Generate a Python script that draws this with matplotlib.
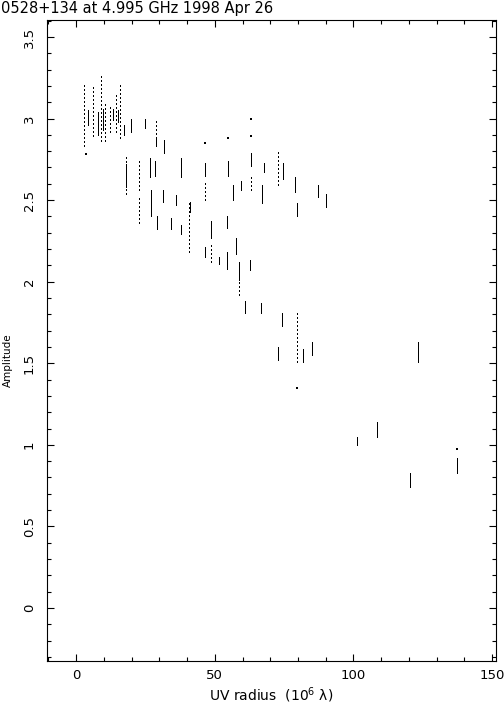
import matplotlib
matplotlib.use("Agg")
import matplotlib.pyplot as plt
from matplotlib.ticker import MultipleLocator

# Visibility amplitude streaks: uv radius (10^6 lambda), amp low, amp high
# densely sampled scans
dense_x = [4.3, 7.9, 9.7, 13.3, 15.1, 17.3, 19.8, 24.9, 28.8, 31.7, 18.0, 26.7,
           28.5, 27.0, 31.4, 36.1, 37.9, 29.2, 34.3, 37.9, 46.5, 54.8, 56.6, 59.5,
           63.1, 67.1, 67.8, 74.6, 79.0, 79.7, 87.2, 90.1, 41.1, 46.5, 48.7, 51.6,
           54.4, 54.4, 57.7, 58.8, 62.7, 60.9, 66.7, 74.3, 81.8, 85.1, 72.8, 123.3,
           101.3, 108.5, 120.4, 137.4]
dense_lo = [2.96, 2.90, 2.93, 2.99, 2.98, 2.90, 2.92, 2.94, 2.84, 2.79, 2.58, 2.64,
            2.65, 2.40, 2.49, 2.47, 2.64, 2.32, 2.32, 2.29, 2.65, 2.65, 2.50, 2.56,
            2.71, 2.48, 2.67, 2.63, 2.55, 2.40, 2.52, 2.46, 2.43, 2.15, 2.27, 2.11,
            2.08, 2.33, 2.17, 2.01, 2.07, 1.81, 1.81, 1.73, 1.51, 1.55, 1.52, 1.51,
            1.00, 1.05, 0.74, 0.83]
dense_hi = [3.05, 3.04, 3.06, 3.06, 3.05, 2.96, 3.00, 3.00, 2.88, 2.87, 2.72, 2.76,
            2.74, 2.56, 2.56, 2.53, 2.76, 2.40, 2.39, 2.35, 2.73, 2.74, 2.59, 2.62,
            2.79, 2.59, 2.73, 2.73, 2.64, 2.48, 2.59, 2.54, 2.49, 2.21, 2.37, 2.15,
            2.18, 2.40, 2.27, 2.12, 2.13, 1.88, 1.87, 1.81, 1.59, 1.63, 1.60, 1.63,
            1.05, 1.14, 0.83, 0.92]

# sparsely sampled scans (scattered points)
sparse_x = [2.9, 6.1, 9.0, 10.5, 12.3, 14.4, 15.9, 28.8, 18.0, 22.7, 22.7, 40.7,
            46.5, 63.1, 72.8, 48.7, 58.8, 79.7]
sparse_lo = [2.83, 2.89, 2.86, 2.86, 2.92, 2.92, 2.88, 2.83, 2.54, 2.56, 2.36, 2.18,
             2.50, 2.56, 2.59, 2.12, 1.92, 1.51]
sparse_hi = [3.21, 3.21, 3.28, 3.10, 3.08, 3.16, 3.21, 2.99, 2.78, 2.76, 2.51, 2.48,
             2.61, 2.65, 2.81, 2.24, 2.01, 1.81]

# isolated points
lone_x = [3.6, 46.5, 54.8, 63.1, 63.1, 79.7, 137.4]
lone_y = [2.78, 2.85, 2.88, 2.89, 3.00, 1.35, 0.975]

title = "0528+134 at 4.995 GHz 1998 Apr 26"

fig = plt.figure(figsize=(5.04, 7.04), dpi=100)
ax = fig.add_axes([47 / 504, 43 / 704, 449 / 504, 641 / 704])

ax.vlines(dense_x, dense_lo, dense_hi, color="black", lw=0.72, antialiased=False)
ax.vlines(sparse_x, sparse_lo, sparse_hi, color="black", lw=0.72,
          linestyles=(0, (1.4, 2.8)), antialiased=False)
ax.scatter(lone_x, lone_y, s=1.5, color="black", marker="s", linewidths=0)

ax.set_xlim(-10.5, 151.4)
ax.set_ylim(-0.325, 3.604)

ax.xaxis.set_major_locator(MultipleLocator(50))
ax.xaxis.set_minor_locator(MultipleLocator(10))
ax.yaxis.set_major_locator(MultipleLocator(0.5))
ax.yaxis.set_minor_locator(MultipleLocator(0.1))
ax.tick_params(which="both", direction="in", top=True, right=True,
               width=0.8, labelsize=9.5)
ax.tick_params(which="major", length=5)
ax.tick_params(which="minor", length=3)
ax.tick_params(axis="x", pad=6)
ax.tick_params(axis="y", pad=8)
ax.set_yticks(ax.get_yticks())
ax.set_ylim(-0.325, 3.604)
ax.set_yticklabels([f"{t:g}" for t in ax.get_yticks()], rotation=90, va="center")
for s in ax.spines.values():
    s.set_linewidth(0.8)

ax.set_xlabel("UV radius  (10$^6$ λ)", fontsize=10, labelpad=2)
ax.set_ylabel("Amplitude", fontsize=7.5)
ax.yaxis.set_label_coords(-0.075, 0.47)
fig.text(0.002, 0.998, title, fontsize=10.5, ha="left", va="top")

fig.savefig("out.png", dpi=100)
